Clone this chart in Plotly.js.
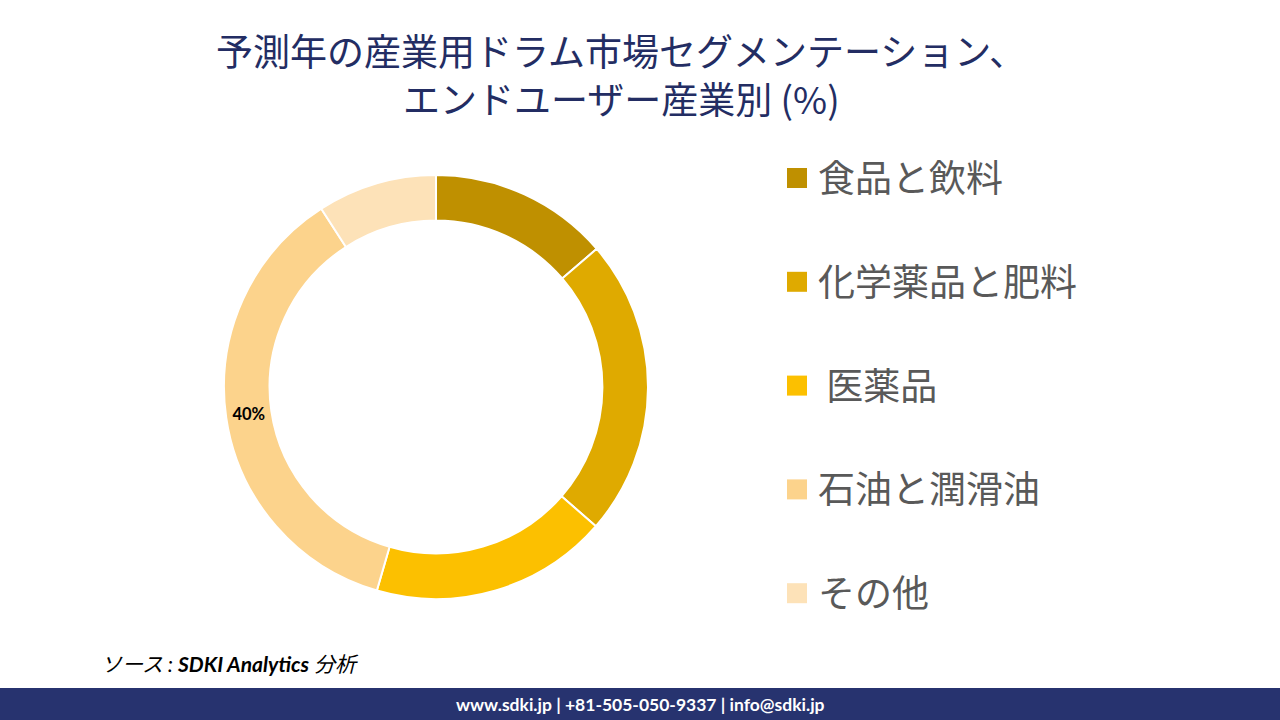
<!DOCTYPE html>
<html>
<head>
<meta charset="utf-8">
<script src="https://cdn.plot.ly/plotly-3.0.1.min.js"></script>
<style>
html,body{margin:0;padding:0;background:#fff;}
#chart{width:1280px;height:720px;}
</style>
</head>
<body>
<div id="chart"></div>
<script>
const categories = ["食品と飲料", "化学薬品と肥料", " 医薬品", "石油と潤滑油", "その他"];
const values = [13.7, 22.7, 18.1, 36.4, 9.1];
const sliceLabels = ["", "", "", "40%", ""];
const colors = ["#BF9000", "#DFAA00", "#FCC000", "#FCD38C", "#FDE2B8"];

const titleLines = ["予測年の産業用ドラム市場セグメンテーション、", "エンドユーザー産業別 (%)"];
const sourceText = "ソース : <b>SDKI Analytics</b> 分析";
const footerText = "www.sdki.jp | +81-505-050-9337 | info@sdki.jp";

const W = 1280, H = 720;
const px = x => x / W;
const py = y => 1 - y / H;

const trace = {
  type: "pie",
  labels: categories,
  values: values,
  text: sliceLabels,
  textinfo: "text",
  texttemplate: "<b>%{text}</b>",
  textposition: "inside",
  insidetextorientation: "horizontal",
  textfont: {family: "Lato, 'Noto Sans', sans-serif", size: 16.5, color: "#000"},
  hole: 0.785,
  sort: false,
  direction: "clockwise",
  rotation: 0,
  marker: {colors: colors, line: {color: "#ffffff", width: 2}},
  domain: {x: [px(224), px(648)], y: [py(599), py(175)]},
  showlegend: false,
  hoverinfo: "label+percent"
};

const shapes = [
  {type: "rect", xref: "paper", yref: "paper", x0: 0, x1: 1, y0: 0, y1: py(688),
   fillcolor: "#27336F", line: {width: 0}, layer: "below"}
];
const annotations = [];
titleLines.forEach((t, i) => {
  annotations.push({xref: "paper", yref: "paper", x: px(621), y: py(50 + i * 48),
    xanchor: "center", yanchor: "middle", showarrow: false, text: t,
    font: {family: "'Noto Sans CJK JP', sans-serif", size: 37, color: "#232D63"}});
});
const legendTop = 178, legendStep = 103.8, sq = 20;
categories.forEach((c, i) => {
  const cy = legendTop + i * legendStep;
  shapes.push({type: "rect", xref: "paper", yref: "paper",
    x0: px(787), x1: px(787 + sq), y0: py(cy + sq / 2), y1: py(cy - sq / 2),
    fillcolor: colors[i], line: {width: 0}});
  annotations.push({xref: "paper", yref: "paper", x: px(816), y: py(cy - 2),
    xanchor: "left", yanchor: "middle", showarrow: false, text: c,
    font: {family: "'Noto Sans CJK JP', sans-serif", size: 37, color: "#595959"}});
});
annotations.push({xref: "paper", yref: "paper", x: px(99), y: py(663),
  xanchor: "left", yanchor: "middle", showarrow: false,
  text: "<i>" + sourceText + "</i>",
  font: {family: "Lato, 'Noto Sans CJK JP', sans-serif", size: 21, color: "#000"}});
annotations.push({xref: "paper", yref: "paper", x: 0.5, y: py(704),
  xanchor: "center", yanchor: "middle", showarrow: false,
  text: "<b>" + footerText + "</b>",
  font: {family: "Lato, 'Noto Sans', sans-serif", size: 17.5, color: "#ffffff"}});

const layout = {
  width: W, height: H,
  margin: {l: 0, r: 0, t: 0, b: 0},
  paper_bgcolor: "#ffffff",
  plot_bgcolor: "#ffffff",
  shapes: shapes,
  annotations: annotations,
  showlegend: false
};

Plotly.newPlot("chart", [trace], layout, {displayModeBar: false, staticPlot: true});
</script>
</body>
</html>
